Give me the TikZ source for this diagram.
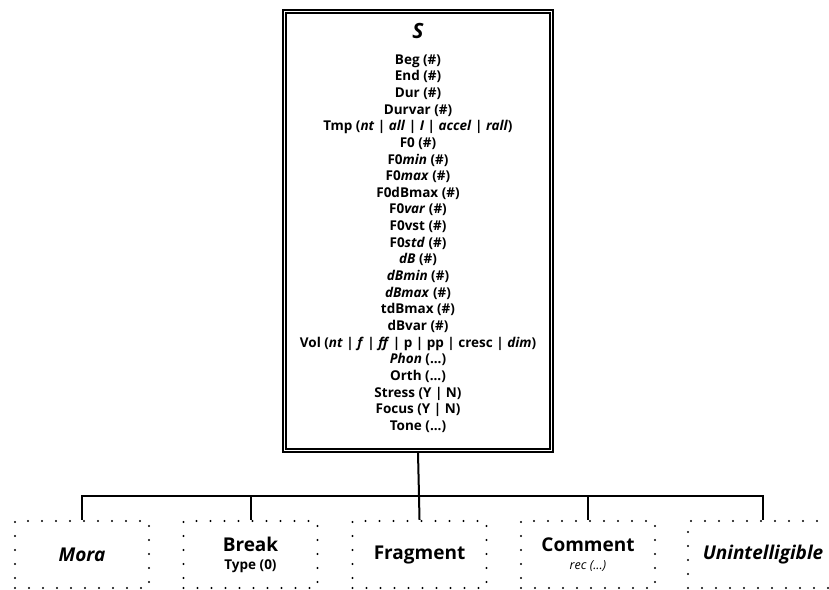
\documentclass[tikz,border=0pt]{standalone}
\usepackage{fontspec}
\setmainfont{Open Sans}
\begin{document}
\newcommand{\ital}[1]{\textit{#1}}
\begin{tikzpicture}[x=1pt,y=-1pt,
  every node/.style={font=\bfseries},
  mainbox/.style={draw, line width=2pt, minimum width=270pt, minimum height=442pt, inner sep=0pt},
  attrtext/.style={align=center, font=\bfseries\fontsize{13.5}{16.65}\selectfont, inner sep=0pt},
  leafbox/.style={draw, line width=2.4pt, line cap=round, dash pattern=on 0pt off 14pt,
                  minimum width=134pt, minimum height=67pt, inner sep=0pt, align=center,
                  font=\bfseries\fontsize{19}{21}\selectfont},
  link/.style={line width=2pt}
]
\useasboundingbox (0,0) rectangle (829,589);

% top-level segment box with a double frame
\node[mainbox] (main) at (418,231) {};
\draw[line width=1.2pt] ([shift={(4pt,-4pt)}]main.north west) rectangle ([shift={(-4pt,4pt)}]main.south east);
\node[font=\bfseries\itshape\fontsize{21}{23}\selectfont] (title) at (418,31) {S};
\node[attrtext] (attrs) at (418,243.5) {%
Beg (\#)\\
End (\#)\\
Dur (\#)\\
Durvar (\#)\\
Tmp (\ital{nt} | \ital{all} | \ital{I} | \ital{accel} | \ital{rall})\\
F0 (\#)\\
F0\ital{min} (\#)\\
F0\ital{max} (\#)\\
F0dBmax (\#)\\
F0\ital{var} (\#)\\
F0vst (\#)\\
F0\ital{std} (\#)\\
\ital{dB} (\#)\\
\ital{dBmin} (\#)\\
\ital{dBmax} (\#)\\
tdBmax (\#)\\
dBvar (\#)\\
Vol (\ital{nt} | \ital{f} | \ital{ff} | p | pp | cresc | \ital{dim})\\
\ital{Phon} (...)\\
Orth (...)\\
Stress (Y | N)\\
Focus (Y | N)\\
Tone (...)};

% child units
\node[leafbox] (mora) at (82,554.5) {\ital{Mora}};
\node[leafbox] (break) at (250.5,554.5) {Break\\[-3pt]{\bfseries\fontsize{13.5}{15}\selectfont Type (0)}};
\node[leafbox] (frag) at (419.5,554.5) {Fragment};
\node[leafbox] (comment) at (588,554.5) {Comment\\[-3pt]{\mdseries\itshape\fontsize{12.5}{14}\selectfont rec (...)}};
\node[leafbox, minimum width=150pt] (unint) at (763,554.5) {\ital{Unintelligible}};

% tree connectors
\coordinate (j) at (419,496);
\draw[link] (main.south) -- (j);
\draw[link] (j) -| (mora.north);
\draw[link] (j) -| (break.north);
\draw[link] (j) -- (frag.north);
\draw[link] (j) -| (comment.north);
\draw[link] (j) -| (unint.north);
\end{tikzpicture}
\end{document}
